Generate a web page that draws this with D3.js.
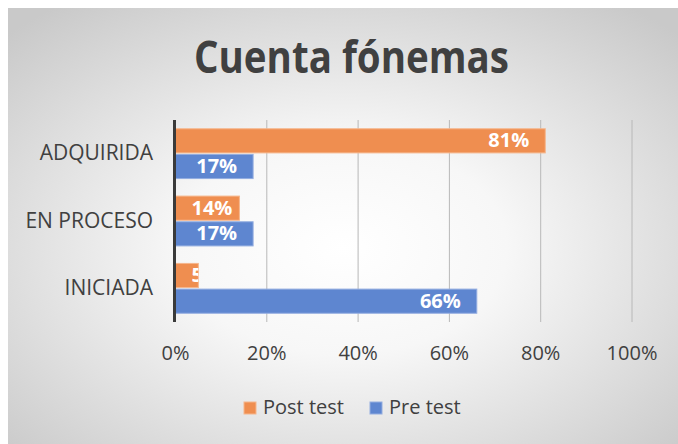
<!DOCTYPE html>
<html>
<head>
<meta charset="utf-8">
<script src="https://cdn.jsdelivr.net/npm/d3@7"></script>
<style>
  body { margin: 0; background: #fff; }
  svg { display: block; }
  text { font-family: "Open Sans", "Liberation Sans", sans-serif; }
</style>
</head>
<body>
<div id="chart"></div>
<script>
// data
const categories = ["ADQUIRIDA", "EN PROCESO", "INICIADA"];
const seriesNames = ["Post test", "Pre test"];
const postTest = [81, 14, 5];
const preTest = [17, 17, 66];
const xTicks = [0, 20, 40, 60, 80, 100];

const W = 678, H = 444;
const margin = {top: 120, left: 175.5, right: 46, bottom: 122};
const colors = {"Post test": "#EF8E50", "Pre test": "#5E86D0"};
const strokes = {"Post test": "#F6B68C", "Pre test": "#93ADE0"};

const svg = d3.select("#chart").append("svg")
  .attr("width", W).attr("height", H);

const defs = svg.append("defs");
const grad = defs.append("radialGradient")
  .attr("id", "bg").attr("cx", "50%").attr("cy", "55%").attr("r", "70%");
grad.append("stop").attr("offset", "0%").attr("stop-color", "#ffffff");
grad.append("stop").attr("offset", "35%").attr("stop-color", "#f7f7f7");
grad.append("stop").attr("offset", "100%").attr("stop-color", "#c9c9c9");

svg.append("rect")
  .attr("x", 8).attr("y", 8).attr("width", W - 8).attr("height", H - 8)
  .attr("fill", "url(#bg)");

svg.append("text")
  .attr("x", 194).attr("y", 73)
  .attr("textLength", 315).attr("lengthAdjust", "spacingAndGlyphs")
  .style("font-size", "44px").style("font-weight", "bold")
  .style("fill", "#404040")
  .text("Cuenta fónemas");

const x = d3.scaleLinear().domain([0, 100]).range([margin.left, W - margin.right]);
const y = d3.scaleBand().domain(categories).range([margin.top, H - margin.bottom]).paddingInner(0.26).paddingOuter(0.13);
const y1 = d3.scaleBand().domain(seriesNames).range([0, y.bandwidth()]).paddingInner(0.06);

// gridlines
svg.append("g").selectAll("line")
  .data(xTicks.slice(1))
  .enter().append("line")
  .attr("x1", d => x(d)).attr("x2", d => x(d))
  .attr("y1", margin.top).attr("y2", H - margin.bottom)
  .style("stroke", "#b8b8b8").style("stroke-width", 1);

const rows = categories.map((c, i) => ({cat: c, vals: [
  {name: "Post test", v: postTest[i]},
  {name: "Pre test", v: preTest[i]}
]}));

const groups = svg.append("g").selectAll("g")
  .data(rows)
  .enter().append("g")
  .attr("transform", d => "translate(0," + y(d.cat) + ")");

groups.selectAll("rect")
  .data(d => d.vals)
  .enter().append("rect")
  .attr("x", x(0))
  .attr("y", d => y1(d.name))
  .attr("width", d => x(d.v) - x(0))
  .attr("height", y1.bandwidth())
  .style("fill", d => colors[d.name])
  .style("stroke", d => strokes[d.name])
  .style("stroke-width", 1);

// value labels, clipped to their bar like the original (the 5% one gets cut)
groups.each(function(d, gi) {
  const g = d3.select(this);
  d.vals.forEach((v, si) => {
    const id = "clip" + gi + "_" + si;
    defs.append("clipPath").attr("id", id)
      .append("rect")
      .attr("x", x(0)).attr("y", y1(v.name))
      .attr("width", x(v.v) - x(0)).attr("height", y1.bandwidth());
    const t = g.append("text")
      .attr("clip-path", "url(#" + id + ")")
      .attr("y", y1(v.name) + y1.bandwidth() / 2 + 1)
      .attr("text-anchor", "end").attr("dominant-baseline", "middle")
      .style("font-size", "20px").style("font-weight", "bold")
      .style("fill", "#ffffff")
      .text(v.v + "%");
    const tw = t.node().getComputedTextLength();
    t.attr("x", Math.max(x(v.v) - 16, x(0) + 16 + tw));
  });
});

// value axis line
svg.append("line")
  .attr("x1", x(0) - 1).attr("x2", x(0) - 1)
  .attr("y1", margin.top).attr("y2", H - margin.bottom)
  .style("stroke", "#3a3a3a").style("stroke-width", 3);

// category labels
svg.append("g").selectAll("text")
  .data(categories)
  .enter().append("text")
  .attr("x", 153)
  .attr("y", d => y(d) + y.bandwidth() / 2 + 1)
  .attr("text-anchor", "end").attr("dominant-baseline", "middle")
  .style("font-size", "21px").style("fill", "#404040")
  .text(d => d);

// x tick labels
svg.append("g").selectAll("text")
  .data(xTicks)
  .enter().append("text")
  .attr("x", d => x(d))
  .attr("y", 355)
  .attr("text-anchor", "middle").attr("dominant-baseline", "middle")
  .style("font-size", "20px").style("fill", "#404040")
  .text(d => d + "%");

// legend
const legendX = [244, 370];
const legend = svg.append("g").selectAll("g")
  .data(seriesNames)
  .enter().append("g")
  .attr("transform", (d, i) => "translate(" + legendX[i] + ",402)");
legend.append("rect")
  .attr("width", 12).attr("height", 12)
  .style("fill", d => colors[d]).style("stroke", d => strokes[d]);
legend.append("text")
  .attr("x", 19).attr("y", 7)
  .attr("dominant-baseline", "middle")
  .style("font-size", "20px").style("fill", "#404040")
  .text(d => d);
</script>
</body>
</html>
